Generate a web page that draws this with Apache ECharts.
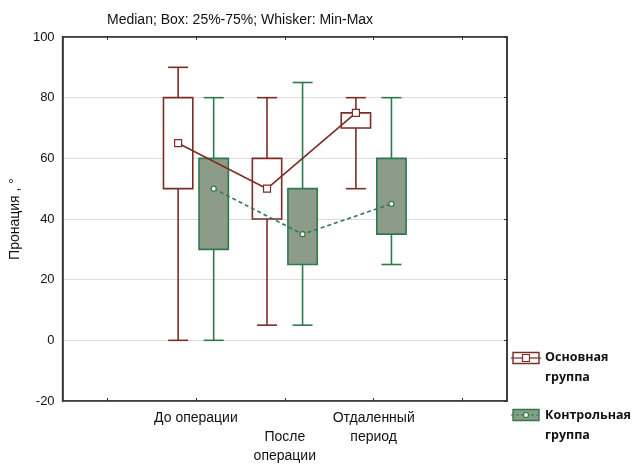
<!DOCTYPE html>
<html>
<head>
<meta charset="utf-8">
<script src="https://cdn.jsdelivr.net/npm/echarts@6/dist/echarts.min.js"></script>
<style>html,body{margin:0;padding:0;background:#fff}#c{width:633px;height:466px}</style>
</head>
<body>
<div id="c"></div>
<script>
const categories = ['До операции', 'После\nоперации', 'Отдаленный\nпериод'];
const seriesNames = ['Основная\nгруппа', 'Контрольная\nгруппа'];
const mainMin = [0, 5, 50];
const mainQ1  = [50, 40, 70];
const mainMed = [65, 50, 75];
const mainQ3  = [80, 60, 75];
const mainMax = [90, 80, 80];
const ctrlMin = [0, 5, 25];
const ctrlQ1  = [30, 25, 35];
const ctrlMed = [50, 35, 45];
const ctrlQ3  = [60, 50, 60];
const ctrlMax = [80, 85, 80];
const yTicks = [-20, 0, 20, 40, 60, 80, 100];

// layout / style
const RED = '#7b2d26', GREEN = '#2e7a4f', GREEN_FILL = '#8c9c88';
const OFFSET = 0.2;           // group offset in category units
const BOX_W = 0.33, CAP_W = 0.225;
const catPos = i => i + 1.5;  // slot centre on the x value axis
const tickPos = [0.5, 1.5, 2.5, 3.5, 4.5];

function boxData(mins, q1s, meds, q3s, maxs, off) {
  return categories.map((c, i) => [catPos(i) + off, mins[i], q1s[i], meds[i], q3s[i], maxs[i]]);
}
function medData(meds, off) {
  return categories.map((c, i) => [catPos(i) + off, meds[i]]);
}
function makeRender(stroke, fill) {
  return function (params, api) {
    const x = api.value(0);
    const unit = api.size([1, 0])[0];
    const bw = unit * BOX_W, cw = unit * CAP_W;
    const pMin = api.coord([x, api.value(1)]);
    const pQ1 = api.coord([x, api.value(2)]);
    const pQ3 = api.coord([x, api.value(4)]);
    const pMax = api.coord([x, api.value(5)]);
    const cx = pMin[0];
    const ls = { stroke: stroke, lineWidth: 1.6 };
    return {
      type: 'group',
      children: [
        { type: 'line', shape: { x1: cx, y1: pQ3[1], x2: cx, y2: pMax[1] }, style: ls },
        { type: 'line', shape: { x1: cx, y1: pQ1[1], x2: cx, y2: pMin[1] }, style: ls },
        { type: 'line', shape: { x1: cx - cw / 2, y1: pMax[1], x2: cx + cw / 2, y2: pMax[1] }, style: ls },
        { type: 'line', shape: { x1: cx - cw / 2, y1: pMin[1], x2: cx + cw / 2, y2: pMin[1] }, style: ls },
        { type: 'rect', shape: { x: cx - bw / 2, y: pQ3[1], width: bw, height: pQ1[1] - pQ3[1] },
          style: { fill: fill, stroke: stroke, lineWidth: 1.6 } }
      ]
    };
  };
}

// legend icon decoration (box + median marker)
function legendIcon(cy, stroke, fill, markerSymbol) {
  const x0 = 513, w = 26, h = 11;
  const children = [
    { type: 'rect', shape: { x: x0, y: cy - h / 2, width: w, height: h }, style: { fill: fill, stroke: stroke, lineWidth: 1.4 } },
    { type: 'line', shape: { x1: x0 - 2, y1: cy, x2: x0 + w + 2, y2: cy }, style: { stroke: stroke, lineWidth: 1.2, lineDash: markerSymbol === 'circle' ? [3, 2] : null } }
  ];
  if (markerSymbol === 'rect') {
    children.push({ type: 'rect', shape: { x: x0 + w / 2 - 3.5, y: cy - 3.5, width: 7, height: 7 }, style: { fill: '#fff', stroke: stroke, lineWidth: 1.2 } });
  } else {
    children.push({ type: 'circle', shape: { cx: x0 + w / 2, cy: cy, r: 2.5 }, style: { fill: '#fff', stroke: stroke, lineWidth: 1.2 } });
  }
  return { type: 'group', silent: true, z: 100, children: children };
}

const chart = echarts.init(document.getElementById('c'), null, { renderer: 'canvas' });
const FONT = 'Liberation Sans, Arial, sans-serif';
chart.setOption({
  animation: false,
  backgroundColor: '#fff',
  title: {
    text: 'Median; Box: 25%-75%; Whisker: Min-Max',
    left: 102, top: 8,
    textStyle: { fontFamily: FONT, fontSize: 14, fontWeight: 'normal', color: '#111' }
  },
  legend: {
    orient: 'vertical',
    left: 514, top: 347, padding: 0,
    itemWidth: 26, itemHeight: 11, itemGap: 18,
    textStyle: { fontFamily: 'Open Sans, sans-serif', fontSize: 12.5, fontWeight: 'bold', color: '#111', lineHeight: 20 },
    data: [
      { name: seriesNames[0], icon: 'rect', itemStyle: { opacity: 0 } },
      { name: seriesNames[1], icon: 'rect', itemStyle: { opacity: 0 } }
    ]
  },
  graphic: [
    legendIcon(358, RED, '#fff', 'rect'),
    legendIcon(415, GREEN, GREEN_FILL, 'circle')
  ],
  grid: { left: 62, right: 126, top: 37, bottom: 63, show: true, borderColor: '#333', borderWidth: 1.5 },
  xAxis: [
    {
      type: 'value', min: 0, max: 5, position: 'bottom',
      axisLine: { show: true, onZero: false, lineStyle: { color: '#333', width: 1.5 } },
      axisTick: { show: true, inside: true, length: 3, customValues: tickPos, lineStyle: { color: '#333' } },
      axisLabel: {
        customValues: categories.map((c, i) => catPos(i)),
        formatter: v => { const i = Math.round(v - 1.5); return (i === 1 ? '\n' : '') + categories[i]; },
        fontFamily: FONT, fontSize: 14, color: '#111', lineHeight: 19, margin: 8
      },
      splitLine: { show: false }
    },
    {
      type: 'value', min: 0, max: 5, position: 'top',
      axisLine: { show: true, onZero: false, lineStyle: { color: '#333', width: 1.5 } },
      axisTick: { show: true, inside: true, length: 3, customValues: tickPos, lineStyle: { color: '#333' } },
      axisLabel: { show: false },
      splitLine: { show: false }
    }
  ],
  yAxis: [
    {
      type: 'value', min: yTicks[0], max: yTicks[yTicks.length - 1], interval: 20,
      name: 'Пронация , °', nameLocation: 'middle', nameGap: 31, nameRotate: 90,
      nameTextStyle: { fontFamily: FONT, fontSize: 14, color: '#111' },
      axisLine: { show: true, onZero: false, lineStyle: { color: '#333', width: 1.5 } },
      axisTick: { show: false },
      axisLabel: { fontFamily: FONT, fontSize: 13, color: '#111', margin: 8 },
      splitLine: { show: true, lineStyle: { color: '#dcdcdc', width: 1 } }
    },
    {
      type: 'value', min: yTicks[0], max: yTicks[yTicks.length - 1], interval: 20, position: 'right',
      axisLine: { show: true, onZero: false, lineStyle: { color: '#333', width: 1.5 } },
      axisTick: { show: true, inside: true, length: 3, lineStyle: { color: '#333' } },
      axisLabel: { show: false },
      splitLine: { show: false }
    }
  ],
  series: [
    {
      name: seriesNames[0], type: 'custom', xAxisIndex: 0, yAxisIndex: 0, z: 2,
      itemStyle: { color: '#fff', borderColor: RED },
      renderItem: makeRender(RED, '#fff'),
      data: boxData(mainMin, mainQ1, mainMed, mainQ3, mainMax, -OFFSET)
    },
    {
      name: seriesNames[1], type: 'custom', xAxisIndex: 0, yAxisIndex: 0, z: 2,
      itemStyle: { color: GREEN_FILL, borderColor: GREEN },
      renderItem: makeRender(GREEN, GREEN_FILL),
      data: boxData(ctrlMin, ctrlQ1, ctrlMed, ctrlQ3, ctrlMax, OFFSET)
    },
    {
      name: seriesNames[1], type: 'line', xAxisIndex: 0, yAxisIndex: 0, z: 3,
      data: medData(ctrlMed, OFFSET),
      lineStyle: { color: GREEN, width: 1.6, type: [4, 3] },
      symbol: 'circle', symbolSize: 5,
      itemStyle: { color: '#fff', borderColor: GREEN, borderWidth: 1.2 },
      showSymbol: true
    },
    {
      name: seriesNames[0], type: 'line', xAxisIndex: 0, yAxisIndex: 0, z: 4,
      data: medData(mainMed, -OFFSET),
      lineStyle: { color: RED, width: 1.6 },
      symbol: 'rect', symbolSize: 7,
      itemStyle: { color: '#fff', borderColor: RED, borderWidth: 1.2 },
      showSymbol: true
    }
  ]
});
</script>
</body>
</html>
